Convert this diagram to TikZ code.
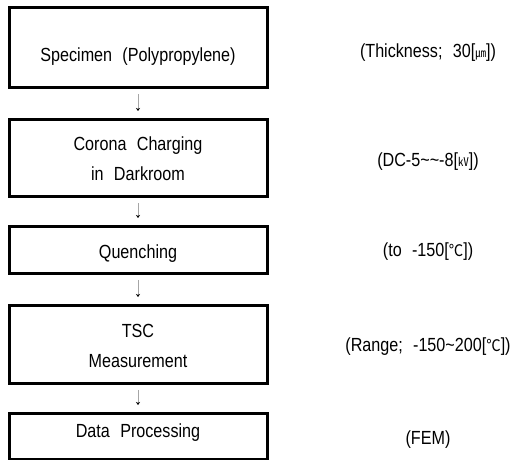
\documentclass[tikz,border=0pt]{standalone}
\usepackage{fontspec}
\setmainfont[FakeStretch=0.85,WordSpace=2.3]{Liberation Sans}
\newfontfamily\cjk[FakeStretch=0.9]{Noto Sans CJK KR}
\newcommand{\tld}{\char"7E\relax}
\usetikzlibrary{arrows.meta}
\begin{document}
\begin{tikzpicture}[x=1pt,y=-1pt,
  stepbox/.style={draw=black,line width=3pt,rectangle,minimum width=258pt,inner sep=0pt,outer sep=0pt},
  txt/.style={anchor=base,inner sep=0pt,font=\fontsize{19}{30}\selectfont,align=center},
  flow/.style={draw=gray!70,line width=0.7pt,shorten <=7pt,shorten >=8pt,-{Stealth[length=3pt,width=4pt,black]}}]
\useasboundingbox (0,0) rectangle (514,460);
\node[stepbox,minimum height=79pt] (b1) at (138,47.5) {};
\node[stepbox,minimum height=77pt] (b2) at (138,157.5) {};
\node[stepbox,minimum height=47pt] (b3) at (138,249.5) {};
\node[stepbox,minimum height=78pt] (b4) at (138,344) {};
\node[stepbox,minimum height=46.5pt] (b5) at (138,436.25) {};
\node[txt] (t1) at (138,62) {Specimen (Polypropylene)};
\node[txt] (t2a) at (138,150) {Corona Charging};
\node[txt] (t2b) at (138,180) {in Darkroom};
\node[txt] (t3) at (138,258) {Quenching};
\node[txt] (t4a) at (138,337) {TSC};
\node[txt] (t4b) at (138,367) {Measurement};
\node[txt] (t5) at (138,437) {Data Processing};
\node[txt] (r1) at (428,58) {(Thickness; 30[{\cjk\fontsize{12}{12}\selectfont ㎛}])};
\node[txt] (r2) at (428,166) {(DC-5\tld\tld-8[{\cjk\fontsize{12}{12}\selectfont ㎸}])};
\node[txt] (r3) at (428,256) {(to -150[{\cjk\fontsize{16}{16}\selectfont ℃}])};
\node[txt] (r4) at (428,351) {(Range; -150\tld 200[{\cjk\fontsize{16}{16}\selectfont ℃}])};
\node[txt] (r5) at (428,444) {(FEM)};
\draw[flow] (b1) -- (b2);
\draw[flow] (b2) -- (b3);
\draw[flow] (b3) -- (b4);
\draw[flow] (b4) -- (b5);
\end{tikzpicture}
\end{document}
